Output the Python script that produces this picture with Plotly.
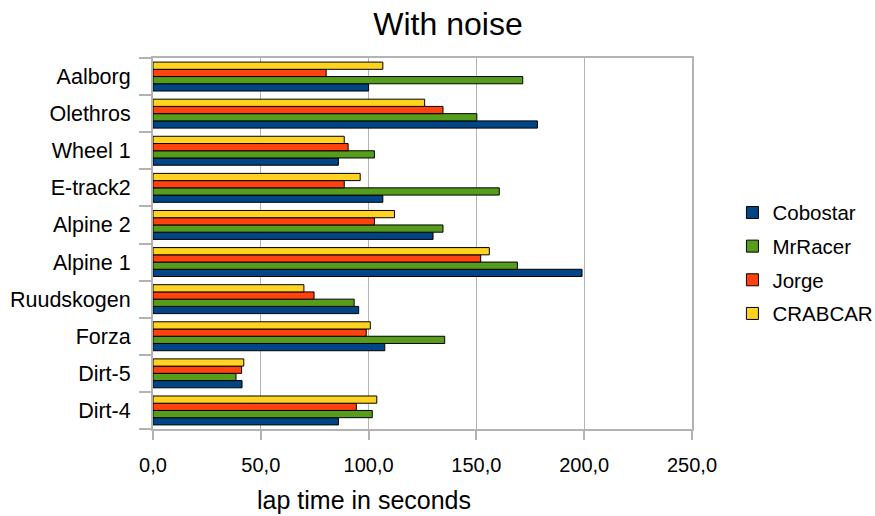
import plotly.graph_objects as go

tracks = ["Dirt-4", "Dirt-5", "Forza", "Ruudskogen", "Alpine 1", "Alpine 2",
          "E-track2", "Wheel 1", "Olethros", "Aalborg"]
cobostar = [86.0, 41.3, 107.5, 95.4, 199.0, 129.9, 106.6, 86.0, 178.3, 100.0]
mrracer = [101.7, 38.5, 135.3, 93.3, 169.0, 134.5, 160.6, 102.7, 150.2, 171.5]
jorge = [94.3, 41.1, 98.9, 74.7, 152.0, 102.7, 88.7, 90.5, 134.5, 80.3]
crabcar = [103.8, 42.1, 100.8, 70.0, 156.0, 112.0, 96.1, 88.7, 126.0, 106.6]

series = [("Cobostar", cobostar, "#004586"),
          ("MrRacer", mrracer, "#579d1c"),
          ("Jorge", jorge, "#ff420e"),
          ("CRABCAR", crabcar, "#ffd320")]

fig = go.Figure()
for name, vals, col in series:
    fig.add_trace(go.Bar(y=tracks, x=vals, name=name, orientation="h", legendgroup=name,
                         marker=dict(color=col, line=dict(color="#000000", width=1))))

fig.update_layout(
    width=875, height=516,
    margin=dict(l=153, r=183, t=58, b=87, autoexpand=False),
    paper_bgcolor="white", plot_bgcolor="white",
    font=dict(family="Liberation Sans, Arial, sans-serif", size=20, color="#000000"),
    title=dict(text="With noise", x=0.512, xanchor="center", y=0.953, yanchor="middle",
               font=dict(size=32, color="#000000")),
    barmode="group", bargap=0.22, bargroupgap=0,
    separators=",.",
    legend=dict(x=1.075, y=0.447, xanchor="left", yanchor="middle", traceorder="grouped",
                font=dict(size=20.5), tracegroupgap=4, itemwidth=30),
    showlegend=True,
    annotations=[dict(text="lap time in seconds", xref="paper", yref="paper",
                      x=(364 - 153) / 539, y=-(500 - 429) / 371,
                      xanchor="center", yanchor="middle", showarrow=False,
                      font=dict(size=25, color="#000000"))],
)
fig.update_xaxes(range=[0, 250], dtick=50, tickformat=".1f",
                 showgrid=True, gridcolor="#b3b3b3", gridwidth=1,
                 showline=True, linecolor="#b3b3b3", linewidth=2, mirror=True,
                 ticks="outside", ticklen=9, tickcolor="#b3b3b3", tickwidth=2,
                 zeroline=False, ticklabelstandoff=8)
fig.update_yaxes(showgrid=False, showline=True, linecolor="#b3b3b3", linewidth=2, mirror=True,
                 ticks="outside", ticklen=12, tickcolor="#b3b3b3", tickwidth=2,
                 tickson="boundaries", ticklabelstandoff=16, tickfont=dict(size=21.5))

fig.write_html("out.html")
